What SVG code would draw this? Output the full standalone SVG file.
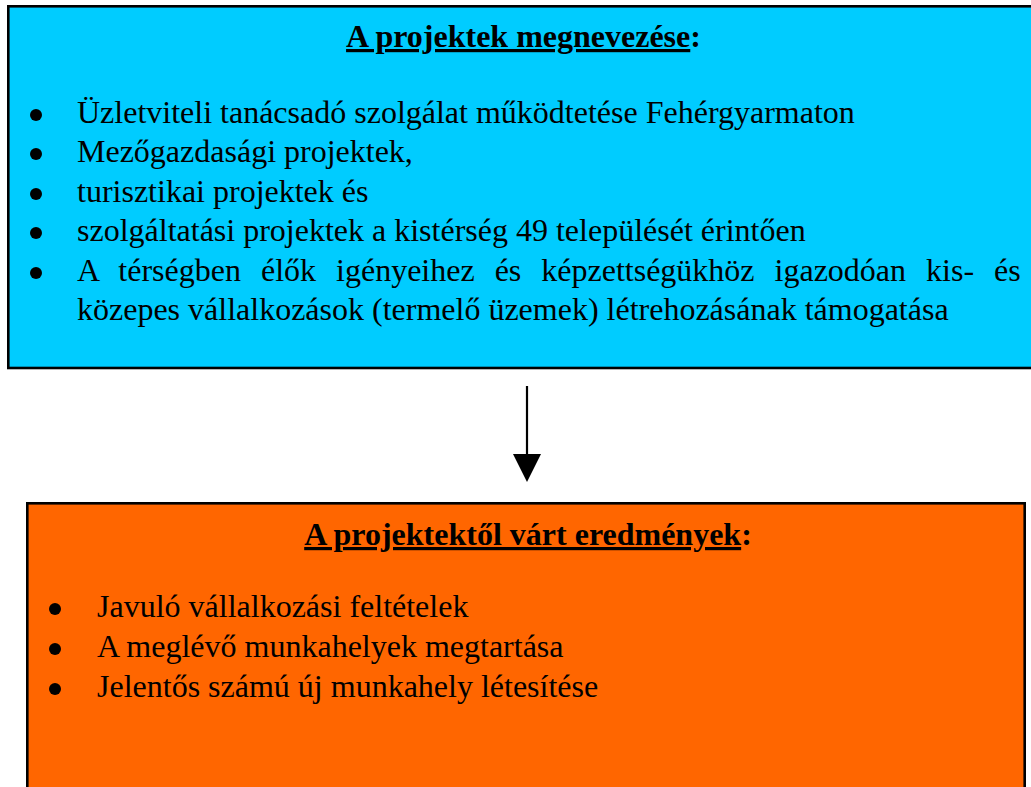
<svg xmlns="http://www.w3.org/2000/svg" width="1031" height="787" viewBox="0 0 1031 787">
<style>
.t{font-family:"Liberation Serif","Times New Roman",serif;font-size:32px;fill:#000}
.b{font-weight:bold}
.box{stroke:#000;stroke-width:2.6}
.dot{fill:#000}
</style>
<rect width="1031" height="787" fill="#fff"/>
<g id="node-projects">
<rect class="box" x="8.3" y="6.3" width="1040" height="361.7" fill="#00CCFF"/>
<text class="t b" x="523.5" y="47" text-anchor="middle"><tspan text-decoration="underline">A projektek megnevezése</tspan>:</text>
<circle class="dot" cx="36" cy="115" r="6"/>
<text class="t" x="77" y="123">Üzletviteli tanácsadó szolgálat működtetése Fehérgyarmaton</text>
<circle class="dot" cx="36" cy="154" r="6"/>
<text class="t" x="77" y="162">Mezőgazdasági projektek,</text>
<circle class="dot" cx="36" cy="194" r="6"/>
<text class="t" x="77" y="202">turisztikai projektek és</text>
<circle class="dot" cx="36" cy="233" r="6"/>
<text class="t" x="77" y="241">szolgáltatási projektek a kistérség 49 települését érintően</text>
<circle class="dot" cx="36" cy="273" r="6"/>
<text class="t" x="77" y="281" word-spacing="12">A térségben élők igényeihez és képzettségükhöz igazodóan kis- és</text>
<text class="t" x="77" y="320">közepes vállalkozások (termelő üzemek) létrehozásának támogatása</text>
</g>
<g id="connectors">
<line x1="527" y1="386" x2="527" y2="456" stroke="#000" stroke-width="2.2"/>
<path d="M513,454 L541,454 L527,482 Z" fill="#000"/>
</g>
<g id="node-results">
<rect class="box" x="27.3" y="503.3" width="997.4" height="300" fill="#FF6600"/>
<text class="t b" x="528" y="545" text-anchor="middle"><tspan text-decoration="underline">A projektektől várt eredmények</tspan>:</text>
<circle class="dot" cx="55" cy="609" r="6"/>
<text class="t" x="97" y="617">Javuló vállalkozási feltételek</text>
<circle class="dot" cx="55" cy="649" r="6"/>
<text class="t" x="97" y="657">A meglévő munkahelyek megtartása</text>
<circle class="dot" cx="55" cy="689" r="6"/>
<text class="t" x="97" y="697">Jelentős számú új munkahely létesítése</text>
</g>
</svg>
